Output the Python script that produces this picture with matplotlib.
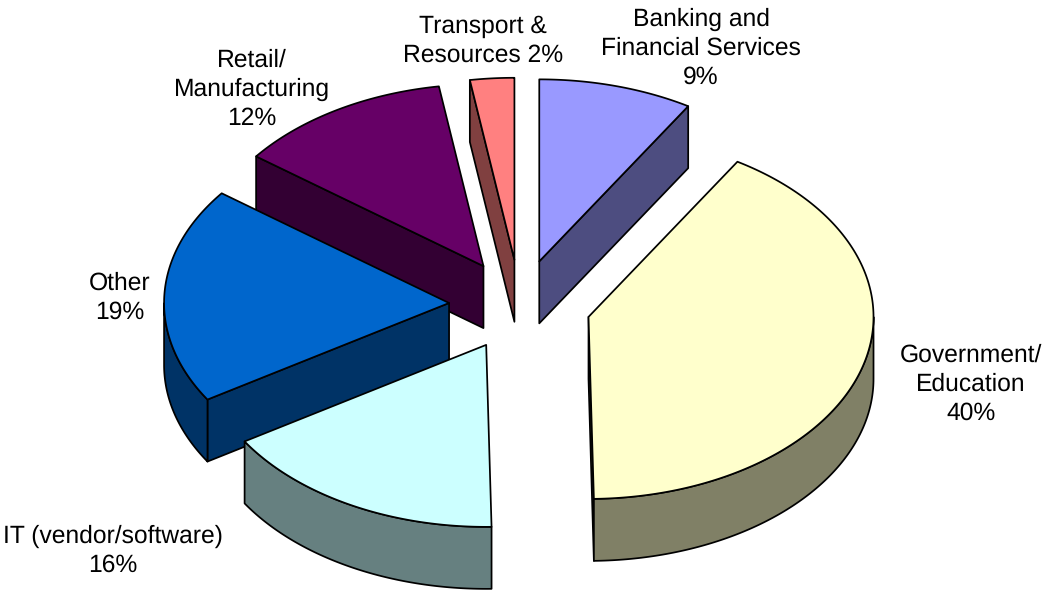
import numpy as np
import matplotlib
matplotlib.use('Agg')
import matplotlib.pyplot as plt
from matplotlib.patches import Polygon

plt.rcParams['font.family'] = ['Liberation Sans', 'DejaVu Sans']
plt.rcParams['text.hinting'] = 'none'

# clockwise from 12 o'clock
categories = ['Banking', 'Government', 'IT', 'Other', 'Retail', 'Transport']
shares = [8.75, 40.95, 16.4, 19.2, 12.2, 2.5]
top_colors = ['#9999FF', '#FFFFCC', '#CCFFFF', '#0066CC', '#660066', '#FF8080']
side_colors = ['#4D4D80', '#808066', '#668080', '#003366', '#330033', '#804040']
label_text = ['Banking and\nFinancial Services\n9%', 'Government/\nEducation\n40%',
              'IT (vendor/software)\n16%', 'Other\n19%',
              'Retail/\nManufacturing\n12%', 'Transport &\nResources 2%']
label_pos = [(701, 48.5), (971, 384.5), (113, 550.5), (120, 297.5), (252, 89.5), (483, 40.5)]

CX, CY = 520, 305
RX, RY = 285, 182
EXPLODE = 71
DEPTH = 62
LW = 1.25


def pt(ang, rx, ry):
    a = np.radians(ang)
    return np.column_stack((rx * np.sin(a), -ry * np.cos(a)))


def draw_slice(ax, a0, a1, top, side):
    mid = (a0 + a1) / 2
    apex = np.array([CX, CY]) + pt(mid, EXPLODE, EXPLODE * RY / RX)[0]
    down = np.array([0, DEPTH])
    angs = np.linspace(a0, a1, 200)
    arc = apex + pt(angs, RX, RY)

    # radial walls, only the ones facing the viewer
    if np.sin(np.radians(a0)) < 0:
        wall = [apex, arc[0], arc[0] + down, apex + down]
        ax.add_patch(Polygon(wall, fc=side, ec='black', lw=LW, joinstyle='round'))
    if np.sin(np.radians(a1)) > 0:
        wall = [apex, arc[-1], arc[-1] + down, apex + down]
        ax.add_patch(Polygon(wall, fc=side, ec='black', lw=LW, joinstyle='round'))

    # outer wall, only the front half of the rim
    front = (angs >= 90) & (angs <= 270)
    if front.any():
        rim = arc[front]
        wall = np.vstack((rim, (rim + down)[::-1]))
        ax.add_patch(Polygon(wall, fc=side, ec='black', lw=LW, joinstyle='round'))

    ax.add_patch(Polygon(np.vstack((apex, arc)), fc=top, ec='black', lw=LW, joinstyle='round'))


fig = plt.figure(figsize=(10.45, 5.92), dpi=100)
ax = fig.add_axes([0, 0, 1, 1])
ax.set_xlim(0, 1045)
ax.set_ylim(592, 0)
ax.axis('off')

edges = np.concatenate(([0], np.cumsum(shares))) / np.sum(shares) * 360

# back to front
for i in [5, 0, 4, 3, 1, 2]:
    draw_slice(ax, edges[i], edges[i + 1], top_colors[i], side_colors[i])

for txt, (x, y) in zip(label_text, label_pos):
    ax.text(x, y, txt, ha='center', va='center', fontsize=17.7, linespacing=1.31, color='black')

fig.savefig('out.png', dpi=100)
